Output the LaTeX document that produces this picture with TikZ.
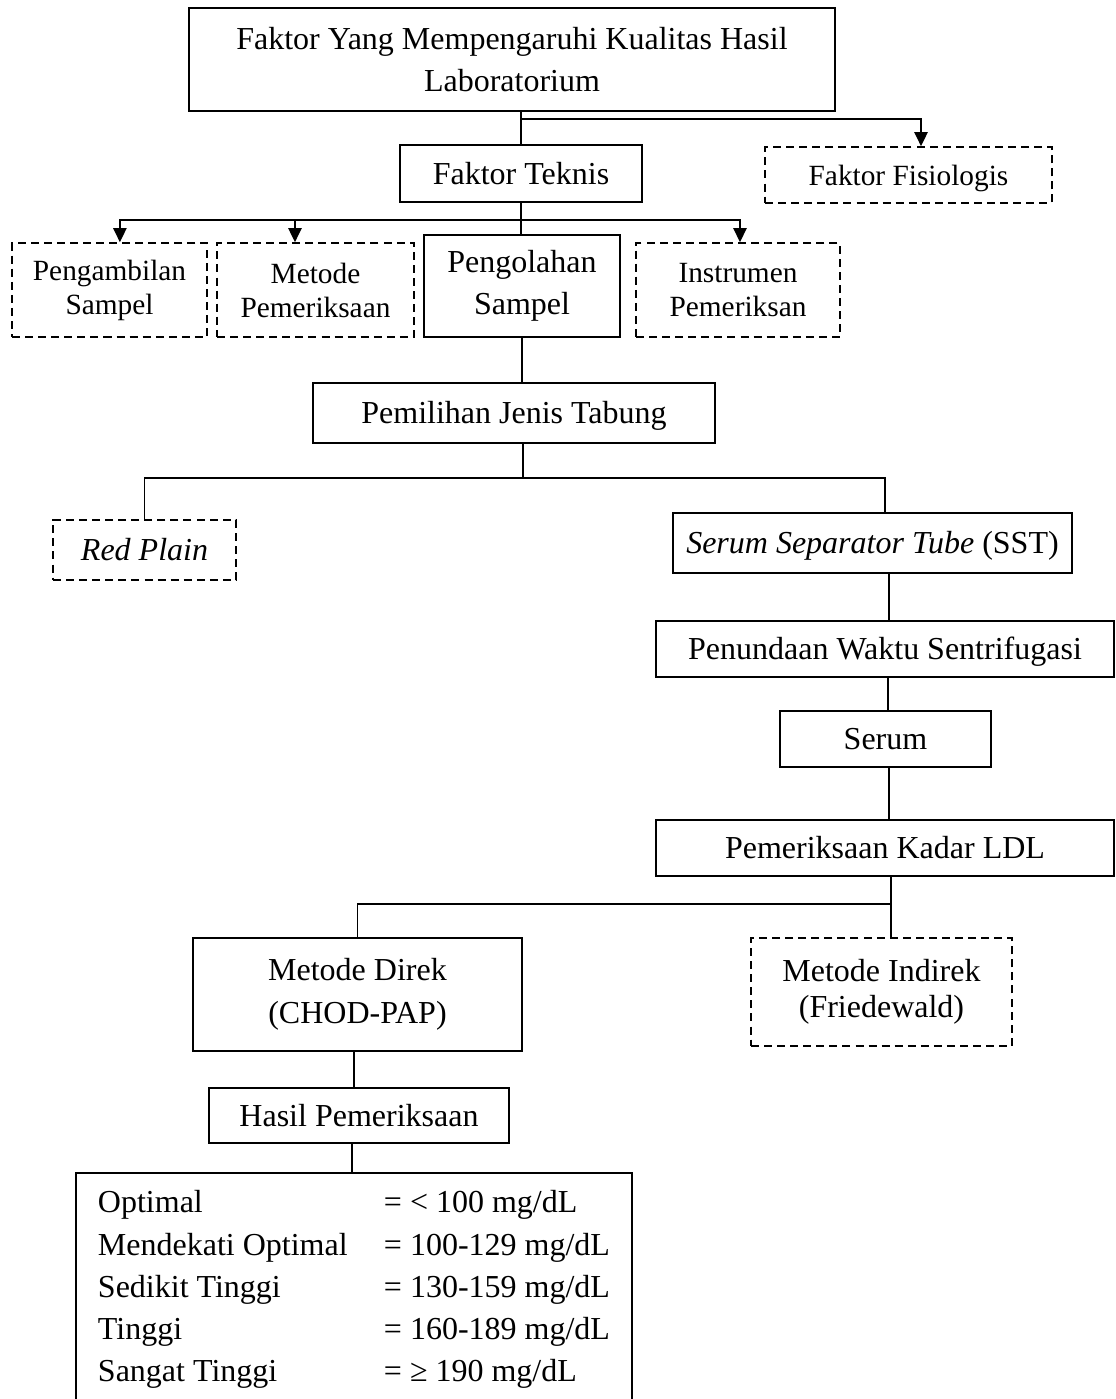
\documentclass[tikz,border=0pt]{standalone}
\usepackage{fontspec}
\setmainfont{Liberation Serif}
\usetikzlibrary{arrows.meta}
\tikzset{
  >={Triangle[width=5pt,length=5.3pt]},
  solidbox/.style={draw,line width=0.6pt,align=center,inner sep=0pt,
    font=\fontsize{12pt}{15.75pt}\selectfont},
  dashbox/.style={solidbox,dash pattern=on 3pt off 1.9pt},
  small/.style={font=\fontsize{11pt}{12.75pt}\selectfont},
  oneline/.style={text height=8.2pt,text depth=0pt},
  link/.style={line width=0.6pt},
}

\begin{document}
\begin{tikzpicture}[x=0.375pt,y=-0.375pt]
\useasboundingbox (0,0) rectangle (1116,1399);

% upper part
\node[solidbox,minimum width=242.25pt,minimum height=38.6pt] (top) at (512,59.5)
  {Faktor Yang Mempengaruhi Kualitas Hasil\\Laboratorium};
\node[solidbox,oneline,minimum width=90.75pt,minimum height=21.4pt] (teknis) at (521,173.5) {Faktor Teknis};
\node[dashbox,small,text height=7.5pt,text depth=0pt,minimum width=107.6pt,minimum height=21pt] (fisio) at (908.5,175) {Faktor Fisiologis};
\node[dashbox,small,minimum width=73.1pt,minimum height=35.25pt] (ambil) at (109.5,290) {Pengambilan\\Sampel};
\node[dashbox,small,minimum width=73.9pt,minimum height=35.25pt] (metode) at (315.5,290) {Metode\\Pemeriksaan};
\node[solidbox,minimum width=73.5pt,minimum height=38.25pt] (olah) at (522,286) {Pengolahan\\Sampel};
\node[dashbox,small,minimum width=76.5pt,minimum height=35.25pt] (instr) at (738,290) {Instrumen\\Pemeriksan};
\node[solidbox,oneline,minimum width=150.75pt,minimum height=22.5pt] (tabung) at (514,413) {Pemilihan Jenis Tabung};

% tabung
\node[dashbox,oneline,minimum width=68.6pt,minimum height=22.5pt] (red) at (144.5,550) {\textit{Red Plain}};
\node[solidbox,oneline,minimum width=149.6pt,minimum height=22.5pt] (sst) at (872.5,543) {\textit{Serum Separator Tube} (SST)};
\node[solidbox,oneline,minimum width=171.75pt,minimum height=21pt] (tunda) at (885,649) {Penundaan Waktu Sentrifugasi};
\node[solidbox,oneline,minimum width=79.1pt,minimum height=21pt] (serum) at (885.5,739) {Serum};
\node[solidbox,oneline,minimum width=171.75pt,minimum height=21pt] (ldl) at (885,848) {Pemeriksaan Kadar LDL};

% metode
\node[solidbox,font=\fontsize{12pt}{16.1pt}\selectfont,minimum width=123.4pt,minimum height=42.4pt] (direk) at (357.5,994.5) {Metode Direk\\(CHOD-PAP)};
\node[dashbox,font=\fontsize{12pt}{13.5pt}\selectfont,minimum width=97.9pt,minimum height=40.5pt] (indirek) at (881.5,992) {Metode Indirek\\(Friedewald)};
\node[solidbox,oneline,minimum width=112.5pt,minimum height=20.6pt] (hasil) at (359,1115.5) {Hasil Pemeriksaan};
\node[solidbox,anchor=north,inner xsep=8.25pt,inner ysep=3.9pt,font=\fontsize{12pt}{15.84pt}\selectfont] (kategori) at (354,1172) {%
  \begin{tabular}{@{}p{107.25pt}@{}l@{}}
  Optimal & = < 100 mg/dL\\
  Mendekati Optimal & = 100-129 mg/dL\\
  Sedikit Tinggi & = 130-159 mg/dL\\
  Tinggi & = 160-189 mg/dL\\
  Sangat Tinggi & = ≥ 190 mg/dL
  \end{tabular}};

% connectors
\coordinate (j1) at (521,119);
\coordinate (j2) at (521,220);
\coordinate (j3) at (523,478);
\coordinate (j4) at (891,904);
\draw[link] (teknis.north |- top.south) -- (teknis.north);
\draw[link,->] (j1) -| ([xshift=4.7pt]fisio.north);
\draw[link] (teknis.south) -- (teknis.south |- olah.north);
\draw[link,->] (j2) -| ([xshift=3.9pt]ambil.north);
\draw[link,->] (j2) -| ([xshift=-7.7pt]metode.north);
\draw[link,->] (j2) -| ([xshift=0.75pt]instr.north);
\draw[link] (olah.south) -- (olah.south |- tabung.north);
\draw[link] (j3 |- tabung.south) -- (j3) -| ([xshift=4.7pt]sst.north);
\draw[link] (j3) -| (red.north);
\draw[link] ([xshift=1.5pt]tunda.north) -- ([xshift=1.5pt]tunda.north |- sst.south);
\draw[link] ([xshift=0.9pt]serum.north) -- ([xshift=0.9pt]serum.north |- tunda.south);
\draw[link] ([xshift=1.3pt]serum.south) -- ([xshift=1.3pt]serum.south |- ldl.north);
\draw[link] (j4 |- ldl.south) -- (j4) -| (direk.north);
\draw[link] (j4) -- (j4 |- indirek.north);
\draw[link] ([xshift=-1.3pt]direk.south) -- ([xshift=-1.3pt]direk.south |- hasil.north);
\draw[link] ([xshift=-2.6pt]hasil.south) -- ([xshift=-2.6pt]hasil.south |- kategori.north);
\end{tikzpicture}
\end{document}
